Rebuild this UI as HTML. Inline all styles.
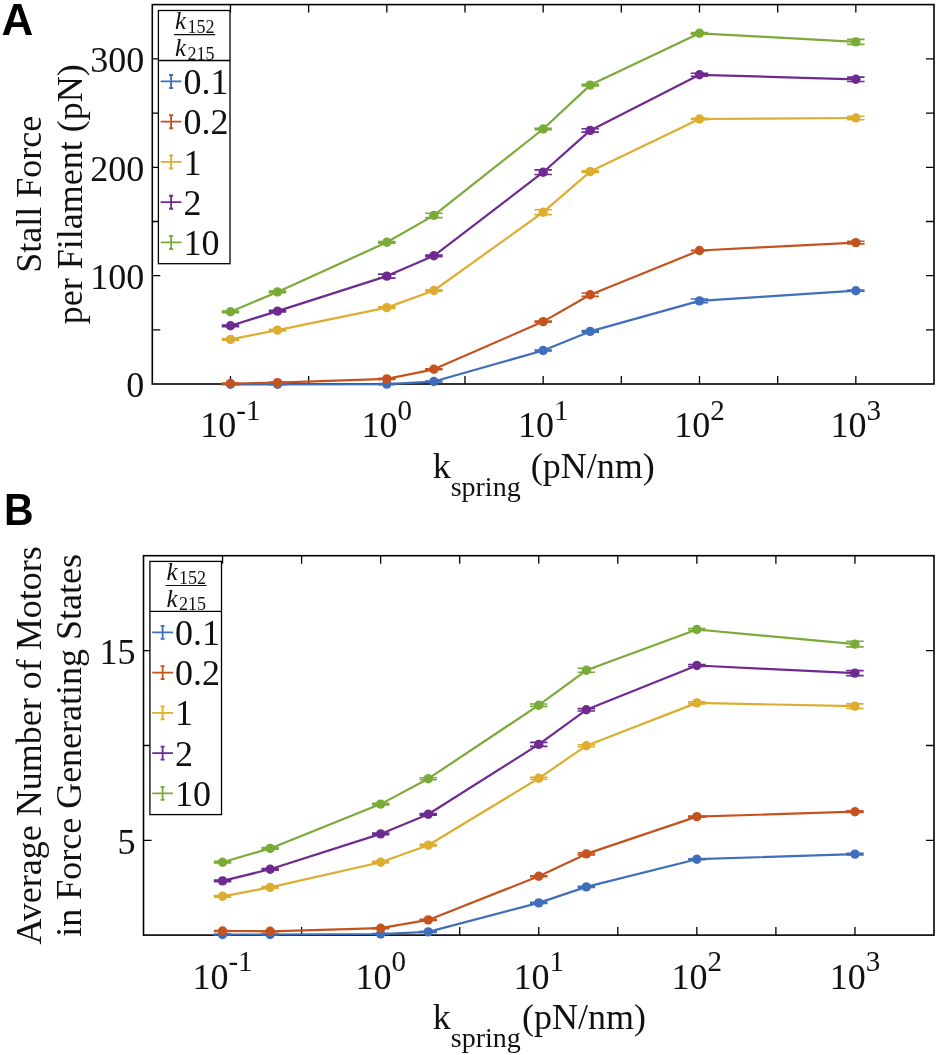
<!DOCTYPE html>
<html><head><meta charset="utf-8"><style>
html,body{margin:0;padding:0;background:#fff;width:939px;height:1055px;overflow:hidden}
svg{display:block;filter:blur(0.3px)}
text{font-family:"Liberation Serif",serif;fill:#111}
.pl{font-family:"Liberation Sans",sans-serif;font-weight:bold;fill:#000}
</style></head><body>
<svg width="939" height="1055" viewBox="0 0 939 1055">
<text class="pl" x="1.6" y="34.6" font-size="44">A</text>
<text class="pl" transform="translate(3.9 525) scale(0.93 1)" font-size="44">B</text>
<rect x="152.30" y="4.60" width="781.70" height="379.40" fill="none" stroke="#000" stroke-width="1.6"/>
<path d="M230.47 384.00V376.00M230.47 4.60V12.60" stroke="#000" stroke-width="1.3"/>
<path d="M308.64 384.00V376.00M308.64 4.60V12.60" stroke="#000" stroke-width="1.3"/>
<path d="M386.81 384.00V376.00M386.81 4.60V12.60" stroke="#000" stroke-width="1.3"/>
<path d="M464.98 384.00V376.00M464.98 4.60V12.60" stroke="#000" stroke-width="1.3"/>
<path d="M543.15 384.00V376.00M543.15 4.60V12.60" stroke="#000" stroke-width="1.3"/>
<path d="M621.32 384.00V376.00M621.32 4.60V12.60" stroke="#000" stroke-width="1.3"/>
<path d="M699.49 384.00V376.00M699.49 4.60V12.60" stroke="#000" stroke-width="1.3"/>
<path d="M777.66 384.00V376.00M777.66 4.60V12.60" stroke="#000" stroke-width="1.3"/>
<path d="M855.83 384.00V376.00M855.83 4.60V12.60" stroke="#000" stroke-width="1.3"/>
<path d="M152.30 329.83H160.30M934.00 329.83H926.00" stroke="#000" stroke-width="1.3"/>
<path d="M152.30 275.66H160.30M934.00 275.66H926.00" stroke="#000" stroke-width="1.3"/>
<path d="M152.30 221.49H160.30M934.00 221.49H926.00" stroke="#000" stroke-width="1.3"/>
<path d="M152.30 167.31H160.30M934.00 167.31H926.00" stroke="#000" stroke-width="1.3"/>
<path d="M152.30 113.14H160.30M934.00 113.14H926.00" stroke="#000" stroke-width="1.3"/>
<path d="M152.30 58.97H160.30M934.00 58.97H926.00" stroke="#000" stroke-width="1.3"/>
<text x="144.20" y="397.20" text-anchor="end" font-size="36">0</text>
<text x="144.20" y="288.86" text-anchor="end" font-size="36">100</text>
<text x="144.20" y="180.51" text-anchor="end" font-size="36">200</text>
<text x="144.20" y="72.17" text-anchor="end" font-size="36">300</text>
<text x="200.37" y="437.40" font-size="36">10</text>
<text x="236.37" y="419.80" font-size="29">-1</text>
<text x="361.56" y="437.40" font-size="36">10</text>
<text x="397.56" y="419.80" font-size="29">0</text>
<text x="517.90" y="437.40" font-size="36">10</text>
<text x="553.90" y="419.80" font-size="29">1</text>
<text x="674.24" y="437.40" font-size="36">10</text>
<text x="710.24" y="419.80" font-size="29">2</text>
<text x="830.58" y="437.40" font-size="36">10</text>
<text x="866.58" y="419.80" font-size="29">3</text>
<polyline points="230.47,384.30 277.53,384.30 386.81,384.10 433.87,381.50 543.15,350.50 590.21,331.40 699.49,300.90 855.83,290.70" fill="none" stroke="#3F6EBB" stroke-width="2.2" stroke-linejoin="round"/>
<path d="M221.72 383.80H239.22M221.72 384.80H239.22M230.47 383.80V384.80" stroke="#3F6EBB" stroke-width="1.6" fill="none"/>
<circle cx="230.47" cy="384.30" r="4.7" fill="#3F6EBB"/>
<path d="M268.78 383.80H286.28M268.78 384.80H286.28M277.53 383.80V384.80" stroke="#3F6EBB" stroke-width="1.6" fill="none"/>
<circle cx="277.53" cy="384.30" r="4.7" fill="#3F6EBB"/>
<path d="M378.06 383.60H395.56M378.06 384.60H395.56M386.81 383.60V384.60" stroke="#3F6EBB" stroke-width="1.6" fill="none"/>
<circle cx="386.81" cy="384.10" r="4.7" fill="#3F6EBB"/>
<path d="M425.12 381.00H442.62M425.12 382.00H442.62M433.87 381.00V382.00" stroke="#3F6EBB" stroke-width="1.6" fill="none"/>
<circle cx="433.87" cy="381.50" r="4.7" fill="#3F6EBB"/>
<path d="M534.40 350.00H551.90M534.40 351.00H551.90M543.15 350.00V351.00" stroke="#3F6EBB" stroke-width="1.6" fill="none"/>
<circle cx="543.15" cy="350.50" r="4.7" fill="#3F6EBB"/>
<path d="M581.46 330.60H598.96M581.46 332.20H598.96M590.21 330.60V332.20" stroke="#3F6EBB" stroke-width="1.6" fill="none"/>
<circle cx="590.21" cy="331.40" r="4.7" fill="#3F6EBB"/>
<path d="M690.74 299.00H708.24M690.74 302.80H708.24M699.49 299.00V302.80" stroke="#3F6EBB" stroke-width="1.6" fill="none"/>
<circle cx="699.49" cy="300.90" r="4.7" fill="#3F6EBB"/>
<path d="M847.08 290.10H864.58M847.08 291.30H864.58M855.83 290.10V291.30" stroke="#3F6EBB" stroke-width="1.6" fill="none"/>
<circle cx="855.83" cy="290.70" r="4.7" fill="#3F6EBB"/>
<polyline points="230.47,383.50 277.53,382.60 386.81,378.90 433.87,369.30 543.15,321.60 590.21,294.70 699.49,250.50 855.83,242.60" fill="none" stroke="#C4521F" stroke-width="2.2" stroke-linejoin="round"/>
<path d="M221.72 383.00H239.22M221.72 384.00H239.22M230.47 383.00V384.00" stroke="#C4521F" stroke-width="1.6" fill="none"/>
<circle cx="230.47" cy="383.50" r="4.7" fill="#C4521F"/>
<path d="M268.78 382.10H286.28M268.78 383.10H286.28M277.53 382.10V383.10" stroke="#C4521F" stroke-width="1.6" fill="none"/>
<circle cx="277.53" cy="382.60" r="4.7" fill="#C4521F"/>
<path d="M378.06 378.40H395.56M378.06 379.40H395.56M386.81 378.40V379.40" stroke="#C4521F" stroke-width="1.6" fill="none"/>
<circle cx="386.81" cy="378.90" r="4.7" fill="#C4521F"/>
<path d="M425.12 368.80H442.62M425.12 369.80H442.62M433.87 368.80V369.80" stroke="#C4521F" stroke-width="1.6" fill="none"/>
<circle cx="433.87" cy="369.30" r="4.7" fill="#C4521F"/>
<path d="M534.40 321.10H551.90M534.40 322.10H551.90M543.15 321.10V322.10" stroke="#C4521F" stroke-width="1.6" fill="none"/>
<circle cx="543.15" cy="321.60" r="4.7" fill="#C4521F"/>
<path d="M581.46 293.00H598.96M581.46 296.40H598.96M590.21 293.00V296.40" stroke="#C4521F" stroke-width="1.6" fill="none"/>
<circle cx="590.21" cy="294.70" r="4.7" fill="#C4521F"/>
<path d="M690.74 250.20H708.24M690.74 250.80H708.24M699.49 250.20V250.80" stroke="#C4521F" stroke-width="1.6" fill="none"/>
<circle cx="699.49" cy="250.50" r="4.7" fill="#C4521F"/>
<path d="M847.08 241.30H864.58M847.08 243.90H864.58M855.83 241.30V243.90" stroke="#C4521F" stroke-width="1.6" fill="none"/>
<circle cx="855.83" cy="242.60" r="4.7" fill="#C4521F"/>
<polyline points="230.47,339.40 277.53,330.10 386.81,307.60 433.87,290.50 543.15,212.20 590.21,171.60 699.49,119.00 855.83,118.00" fill="none" stroke="#DDAD30" stroke-width="2.2" stroke-linejoin="round"/>
<path d="M221.72 338.60H239.22M221.72 340.20H239.22M230.47 338.60V340.20" stroke="#DDAD30" stroke-width="1.6" fill="none"/>
<circle cx="230.47" cy="339.40" r="4.7" fill="#DDAD30"/>
<path d="M268.78 329.30H286.28M268.78 330.90H286.28M277.53 329.30V330.90" stroke="#DDAD30" stroke-width="1.6" fill="none"/>
<circle cx="277.53" cy="330.10" r="4.7" fill="#DDAD30"/>
<path d="M378.06 306.80H395.56M378.06 308.40H395.56M386.81 306.80V308.40" stroke="#DDAD30" stroke-width="1.6" fill="none"/>
<circle cx="386.81" cy="307.60" r="4.7" fill="#DDAD30"/>
<path d="M425.12 289.70H442.62M425.12 291.30H442.62M433.87 289.70V291.30" stroke="#DDAD30" stroke-width="1.6" fill="none"/>
<circle cx="433.87" cy="290.50" r="4.7" fill="#DDAD30"/>
<path d="M534.40 209.80H551.90M534.40 214.60H551.90M543.15 209.80V214.60" stroke="#DDAD30" stroke-width="1.6" fill="none"/>
<circle cx="543.15" cy="212.20" r="4.7" fill="#DDAD30"/>
<path d="M581.46 170.80H598.96M581.46 172.40H598.96M590.21 170.80V172.40" stroke="#DDAD30" stroke-width="1.6" fill="none"/>
<circle cx="590.21" cy="171.60" r="4.7" fill="#DDAD30"/>
<path d="M690.74 118.20H708.24M690.74 119.80H708.24M699.49 118.20V119.80" stroke="#DDAD30" stroke-width="1.6" fill="none"/>
<circle cx="699.49" cy="119.00" r="4.7" fill="#DDAD30"/>
<path d="M847.08 116.30H864.58M847.08 119.70H864.58M855.83 116.30V119.70" stroke="#DDAD30" stroke-width="1.6" fill="none"/>
<circle cx="855.83" cy="118.00" r="4.7" fill="#DDAD30"/>
<polyline points="230.47,325.80 277.53,311.10 386.81,276.10 433.87,255.80 543.15,172.20 590.21,130.40 699.49,74.80 855.83,79.30" fill="none" stroke="#6E2A90" stroke-width="2.2" stroke-linejoin="round"/>
<path d="M221.72 325.00H239.22M221.72 326.60H239.22M230.47 325.00V326.60" stroke="#6E2A90" stroke-width="1.6" fill="none"/>
<circle cx="230.47" cy="325.80" r="4.7" fill="#6E2A90"/>
<path d="M268.78 310.30H286.28M268.78 311.90H286.28M277.53 310.30V311.90" stroke="#6E2A90" stroke-width="1.6" fill="none"/>
<circle cx="277.53" cy="311.10" r="4.7" fill="#6E2A90"/>
<path d="M378.06 274.10H395.56M378.06 278.10H395.56M386.81 274.10V278.10" stroke="#6E2A90" stroke-width="1.6" fill="none"/>
<circle cx="386.81" cy="276.10" r="4.7" fill="#6E2A90"/>
<path d="M425.12 255.00H442.62M425.12 256.60H442.62M433.87 255.00V256.60" stroke="#6E2A90" stroke-width="1.6" fill="none"/>
<circle cx="433.87" cy="255.80" r="4.7" fill="#6E2A90"/>
<path d="M534.40 169.90H551.90M534.40 174.50H551.90M543.15 169.90V174.50" stroke="#6E2A90" stroke-width="1.6" fill="none"/>
<circle cx="543.15" cy="172.20" r="4.7" fill="#6E2A90"/>
<path d="M581.46 128.70H598.96M581.46 132.10H598.96M590.21 128.70V132.10" stroke="#6E2A90" stroke-width="1.6" fill="none"/>
<circle cx="590.21" cy="130.40" r="4.7" fill="#6E2A90"/>
<path d="M690.74 73.30H708.24M690.74 76.30H708.24M699.49 73.30V76.30" stroke="#6E2A90" stroke-width="1.6" fill="none"/>
<circle cx="699.49" cy="74.80" r="4.7" fill="#6E2A90"/>
<path d="M847.08 77.10H864.58M847.08 81.50H864.58M855.83 77.10V81.50" stroke="#6E2A90" stroke-width="1.6" fill="none"/>
<circle cx="855.83" cy="79.30" r="4.7" fill="#6E2A90"/>
<polyline points="230.47,311.80 277.53,291.90 386.81,242.30 433.87,215.40 543.15,129.00 590.21,85.10 699.49,33.30 855.83,41.90" fill="none" stroke="#7AAA38" stroke-width="2.2" stroke-linejoin="round"/>
<path d="M221.72 311.00H239.22M221.72 312.60H239.22M230.47 311.00V312.60" stroke="#7AAA38" stroke-width="1.6" fill="none"/>
<circle cx="230.47" cy="311.80" r="4.7" fill="#7AAA38"/>
<path d="M268.78 291.10H286.28M268.78 292.70H286.28M277.53 291.10V292.70" stroke="#7AAA38" stroke-width="1.6" fill="none"/>
<circle cx="277.53" cy="291.90" r="4.7" fill="#7AAA38"/>
<path d="M378.06 241.50H395.56M378.06 243.10H395.56M386.81 241.50V243.10" stroke="#7AAA38" stroke-width="1.6" fill="none"/>
<circle cx="386.81" cy="242.30" r="4.7" fill="#7AAA38"/>
<path d="M425.12 213.20H442.62M425.12 217.60H442.62M433.87 213.20V217.60" stroke="#7AAA38" stroke-width="1.6" fill="none"/>
<circle cx="433.87" cy="215.40" r="4.7" fill="#7AAA38"/>
<path d="M534.40 128.20H551.90M534.40 129.80H551.90M543.15 128.20V129.80" stroke="#7AAA38" stroke-width="1.6" fill="none"/>
<circle cx="543.15" cy="129.00" r="4.7" fill="#7AAA38"/>
<path d="M581.46 84.30H598.96M581.46 85.90H598.96M590.21 84.30V85.90" stroke="#7AAA38" stroke-width="1.6" fill="none"/>
<circle cx="590.21" cy="85.10" r="4.7" fill="#7AAA38"/>
<path d="M690.74 32.50H708.24M690.74 34.10H708.24M699.49 32.50V34.10" stroke="#7AAA38" stroke-width="1.6" fill="none"/>
<circle cx="699.49" cy="33.30" r="4.7" fill="#7AAA38"/>
<path d="M847.08 39.40H864.58M847.08 44.40H864.58M855.83 39.40V44.40" stroke="#7AAA38" stroke-width="1.6" fill="none"/>
<circle cx="855.83" cy="41.90" r="4.7" fill="#7AAA38"/>
<text x="432.65" y="478.00" font-size="36">k</text>
<text x="450.65" y="495.90" font-size="28">spring</text>
<text x="521.85" y="478.00" font-size="36">&#160;(pN/nm)</text>
<text transform="translate(41.10 194.30) rotate(-90)" text-anchor="middle" font-size="36">Stall Force</text>
<text transform="translate(81.50 194.30) rotate(-90)" text-anchor="middle" font-size="36">per Filament (pN)</text>
<rect x="158.40" y="10.50" width="71.60" height="253.20" fill="#fff" stroke="#000" stroke-width="1.3"/>
<path d="M158.40 60.50H230.00" stroke="#000" stroke-width="1.3"/>
<path d="M174.10 34.60H215.10" stroke="#111" stroke-width="1.2"/>
<text x="175.10" y="29.00" font-size="25" font-style="italic">k</text>
<text x="187.60" y="32.70" font-size="18">152</text>
<text x="175.10" y="55.70" font-size="25" font-style="italic">k</text>
<text x="187.60" y="59.50" font-size="18">215</text>
<path d="M160.70 81.40H181.50M171.10 75.00V88.00M169.10 75.00H173.10M169.10 88.00H173.10" stroke="#3F6EBB" stroke-width="1.8" fill="none"/>
<text x="183.40" y="94.00" font-size="36">0.1</text>
<path d="M160.70 121.65H181.50M171.10 115.25V128.25M169.10 115.25H173.10M169.10 128.25H173.10" stroke="#C4521F" stroke-width="1.8" fill="none"/>
<text x="183.40" y="134.25" font-size="36">0.2</text>
<path d="M160.70 161.90H181.50M171.10 155.50V168.50M169.10 155.50H173.10M169.10 168.50H173.10" stroke="#DDAD30" stroke-width="1.8" fill="none"/>
<text x="183.40" y="174.50" font-size="36">1</text>
<path d="M160.70 202.15H181.50M171.10 195.75V208.75M169.10 195.75H173.10M169.10 208.75H173.10" stroke="#6E2A90" stroke-width="1.8" fill="none"/>
<text x="183.40" y="214.75" font-size="36">2</text>
<path d="M160.70 242.40H181.50M171.10 236.00V249.00M169.10 236.00H173.10M169.10 249.00H173.10" stroke="#7AAA38" stroke-width="1.8" fill="none"/>
<text x="183.40" y="255.00" font-size="36">10</text>
<rect x="143.50" y="555.70" width="790.50" height="379.40" fill="none" stroke="#000" stroke-width="1.6"/>
<path d="M222.55 935.10V927.10M222.55 555.70V563.70" stroke="#000" stroke-width="1.3"/>
<path d="M301.60 935.10V927.10M301.60 555.70V563.70" stroke="#000" stroke-width="1.3"/>
<path d="M380.65 935.10V927.10M380.65 555.70V563.70" stroke="#000" stroke-width="1.3"/>
<path d="M459.70 935.10V927.10M459.70 555.70V563.70" stroke="#000" stroke-width="1.3"/>
<path d="M538.75 935.10V927.10M538.75 555.70V563.70" stroke="#000" stroke-width="1.3"/>
<path d="M617.80 935.10V927.10M617.80 555.70V563.70" stroke="#000" stroke-width="1.3"/>
<path d="M696.85 935.10V927.10M696.85 555.70V563.70" stroke="#000" stroke-width="1.3"/>
<path d="M775.90 935.10V927.10M775.90 555.70V563.70" stroke="#000" stroke-width="1.3"/>
<path d="M854.95 935.10V927.10M854.95 555.70V563.70" stroke="#000" stroke-width="1.3"/>
<path d="M143.50 840.30H151.50M934.00 840.30H926.00" stroke="#000" stroke-width="1.3"/>
<path d="M143.50 745.50H151.50M934.00 745.50H926.00" stroke="#000" stroke-width="1.3"/>
<path d="M143.50 650.70H151.50M934.00 650.70H926.00" stroke="#000" stroke-width="1.3"/>
<text x="135.40" y="853.50" text-anchor="end" font-size="36">5</text>
<text x="135.40" y="663.90" text-anchor="end" font-size="36">15</text>
<text x="192.45" y="988.50" font-size="36">10</text>
<text x="228.45" y="970.90" font-size="29">-1</text>
<text x="355.40" y="988.50" font-size="36">10</text>
<text x="391.40" y="970.90" font-size="29">0</text>
<text x="513.50" y="988.50" font-size="36">10</text>
<text x="549.50" y="970.90" font-size="29">1</text>
<text x="671.60" y="988.50" font-size="36">10</text>
<text x="707.60" y="970.90" font-size="29">2</text>
<text x="829.70" y="988.50" font-size="36">10</text>
<text x="865.70" y="970.90" font-size="29">3</text>
<polyline points="222.55,934.50 270.14,934.50 380.65,934.00 428.24,931.90 538.75,902.90 586.34,886.90 696.85,859.20 854.95,854.10" fill="none" stroke="#3F6EBB" stroke-width="2.2" stroke-linejoin="round"/>
<path d="M213.80 934.00H231.30M213.80 935.00H231.30M222.55 934.00V935.00" stroke="#3F6EBB" stroke-width="1.6" fill="none"/>
<circle cx="222.55" cy="934.50" r="4.7" fill="#3F6EBB"/>
<path d="M261.39 934.00H278.89M261.39 935.00H278.89M270.14 934.00V935.00" stroke="#3F6EBB" stroke-width="1.6" fill="none"/>
<circle cx="270.14" cy="934.50" r="4.7" fill="#3F6EBB"/>
<path d="M371.90 933.50H389.40M371.90 934.50H389.40M380.65 933.50V934.50" stroke="#3F6EBB" stroke-width="1.6" fill="none"/>
<circle cx="380.65" cy="934.00" r="4.7" fill="#3F6EBB"/>
<path d="M419.49 931.40H436.99M419.49 932.40H436.99M428.24 931.40V932.40" stroke="#3F6EBB" stroke-width="1.6" fill="none"/>
<circle cx="428.24" cy="931.90" r="4.7" fill="#3F6EBB"/>
<path d="M530.00 902.40H547.50M530.00 903.40H547.50M538.75 902.40V903.40" stroke="#3F6EBB" stroke-width="1.6" fill="none"/>
<circle cx="538.75" cy="902.90" r="4.7" fill="#3F6EBB"/>
<path d="M577.59 886.40H595.09M577.59 887.40H595.09M586.34 886.40V887.40" stroke="#3F6EBB" stroke-width="1.6" fill="none"/>
<circle cx="586.34" cy="886.90" r="4.7" fill="#3F6EBB"/>
<path d="M688.10 858.70H705.60M688.10 859.70H705.60M696.85 858.70V859.70" stroke="#3F6EBB" stroke-width="1.6" fill="none"/>
<circle cx="696.85" cy="859.20" r="4.7" fill="#3F6EBB"/>
<path d="M846.20 853.30H863.70M846.20 854.90H863.70M854.95 853.30V854.90" stroke="#3F6EBB" stroke-width="1.6" fill="none"/>
<circle cx="854.95" cy="854.10" r="4.7" fill="#3F6EBB"/>
<polyline points="222.55,931.00 270.14,931.30 380.65,928.20 428.24,919.90 538.75,876.30 586.34,853.90 696.85,816.60 854.95,811.70" fill="none" stroke="#C4521F" stroke-width="2.2" stroke-linejoin="round"/>
<path d="M213.80 930.50H231.30M213.80 931.50H231.30M222.55 930.50V931.50" stroke="#C4521F" stroke-width="1.6" fill="none"/>
<circle cx="222.55" cy="931.00" r="4.7" fill="#C4521F"/>
<path d="M261.39 930.80H278.89M261.39 931.80H278.89M270.14 930.80V931.80" stroke="#C4521F" stroke-width="1.6" fill="none"/>
<circle cx="270.14" cy="931.30" r="4.7" fill="#C4521F"/>
<path d="M371.90 927.70H389.40M371.90 928.70H389.40M380.65 927.70V928.70" stroke="#C4521F" stroke-width="1.6" fill="none"/>
<circle cx="380.65" cy="928.20" r="4.7" fill="#C4521F"/>
<path d="M419.49 919.40H436.99M419.49 920.40H436.99M428.24 919.40V920.40" stroke="#C4521F" stroke-width="1.6" fill="none"/>
<circle cx="428.24" cy="919.90" r="4.7" fill="#C4521F"/>
<path d="M530.00 875.80H547.50M530.00 876.80H547.50M538.75 875.80V876.80" stroke="#C4521F" stroke-width="1.6" fill="none"/>
<circle cx="538.75" cy="876.30" r="4.7" fill="#C4521F"/>
<path d="M577.59 852.90H595.09M577.59 854.90H595.09M586.34 852.90V854.90" stroke="#C4521F" stroke-width="1.6" fill="none"/>
<circle cx="586.34" cy="853.90" r="4.7" fill="#C4521F"/>
<path d="M688.10 816.10H705.60M688.10 817.10H705.60M696.85 816.10V817.10" stroke="#C4521F" stroke-width="1.6" fill="none"/>
<circle cx="696.85" cy="816.60" r="4.7" fill="#C4521F"/>
<path d="M846.20 810.90H863.70M846.20 812.50H863.70M854.95 810.90V812.50" stroke="#C4521F" stroke-width="1.6" fill="none"/>
<circle cx="854.95" cy="811.70" r="4.7" fill="#C4521F"/>
<polyline points="222.55,896.30 270.14,887.40 380.65,862.20 428.24,845.20 538.75,778.30 586.34,745.70 696.85,702.90 854.95,706.20" fill="none" stroke="#DDAD30" stroke-width="2.2" stroke-linejoin="round"/>
<path d="M213.80 895.50H231.30M213.80 897.10H231.30M222.55 895.50V897.10" stroke="#DDAD30" stroke-width="1.6" fill="none"/>
<circle cx="222.55" cy="896.30" r="4.7" fill="#DDAD30"/>
<path d="M261.39 886.60H278.89M261.39 888.20H278.89M270.14 886.60V888.20" stroke="#DDAD30" stroke-width="1.6" fill="none"/>
<circle cx="270.14" cy="887.40" r="4.7" fill="#DDAD30"/>
<path d="M371.90 861.40H389.40M371.90 863.00H389.40M380.65 861.40V863.00" stroke="#DDAD30" stroke-width="1.6" fill="none"/>
<circle cx="380.65" cy="862.20" r="4.7" fill="#DDAD30"/>
<path d="M419.49 844.40H436.99M419.49 846.00H436.99M428.24 844.40V846.00" stroke="#DDAD30" stroke-width="1.6" fill="none"/>
<circle cx="428.24" cy="845.20" r="4.7" fill="#DDAD30"/>
<path d="M530.00 777.30H547.50M530.00 779.30H547.50M538.75 777.30V779.30" stroke="#DDAD30" stroke-width="1.6" fill="none"/>
<circle cx="538.75" cy="778.30" r="4.7" fill="#DDAD30"/>
<path d="M577.59 744.70H595.09M577.59 746.70H595.09M586.34 744.70V746.70" stroke="#DDAD30" stroke-width="1.6" fill="none"/>
<circle cx="586.34" cy="745.70" r="4.7" fill="#DDAD30"/>
<path d="M688.10 701.90H705.60M688.10 703.90H705.60M696.85 701.90V703.90" stroke="#DDAD30" stroke-width="1.6" fill="none"/>
<circle cx="696.85" cy="702.90" r="4.7" fill="#DDAD30"/>
<path d="M846.20 703.90H863.70M846.20 708.50H863.70M854.95 703.90V708.50" stroke="#DDAD30" stroke-width="1.6" fill="none"/>
<circle cx="854.95" cy="706.20" r="4.7" fill="#DDAD30"/>
<polyline points="222.55,880.90 270.14,869.30 380.65,833.90 428.24,814.30 538.75,744.40 586.34,709.80 696.85,665.50 854.95,673.10" fill="none" stroke="#6E2A90" stroke-width="2.2" stroke-linejoin="round"/>
<path d="M213.80 880.10H231.30M213.80 881.70H231.30M222.55 880.10V881.70" stroke="#6E2A90" stroke-width="1.6" fill="none"/>
<circle cx="222.55" cy="880.90" r="4.7" fill="#6E2A90"/>
<path d="M261.39 868.50H278.89M261.39 870.10H278.89M270.14 868.50V870.10" stroke="#6E2A90" stroke-width="1.6" fill="none"/>
<circle cx="270.14" cy="869.30" r="4.7" fill="#6E2A90"/>
<path d="M371.90 833.10H389.40M371.90 834.70H389.40M380.65 833.10V834.70" stroke="#6E2A90" stroke-width="1.6" fill="none"/>
<circle cx="380.65" cy="833.90" r="4.7" fill="#6E2A90"/>
<path d="M419.49 813.50H436.99M419.49 815.10H436.99M428.24 813.50V815.10" stroke="#6E2A90" stroke-width="1.6" fill="none"/>
<circle cx="428.24" cy="814.30" r="4.7" fill="#6E2A90"/>
<path d="M530.00 742.40H547.50M530.00 746.40H547.50M538.75 742.40V746.40" stroke="#6E2A90" stroke-width="1.6" fill="none"/>
<circle cx="538.75" cy="744.40" r="4.7" fill="#6E2A90"/>
<path d="M577.59 708.60H595.09M577.59 711.00H595.09M586.34 708.60V711.00" stroke="#6E2A90" stroke-width="1.6" fill="none"/>
<circle cx="586.34" cy="709.80" r="4.7" fill="#6E2A90"/>
<path d="M688.10 664.50H705.60M688.10 666.50H705.60M696.85 664.50V666.50" stroke="#6E2A90" stroke-width="1.6" fill="none"/>
<circle cx="696.85" cy="665.50" r="4.7" fill="#6E2A90"/>
<path d="M846.20 670.60H863.70M846.20 675.60H863.70M854.95 670.60V675.60" stroke="#6E2A90" stroke-width="1.6" fill="none"/>
<circle cx="854.95" cy="673.10" r="4.7" fill="#6E2A90"/>
<polyline points="222.55,862.20 270.14,848.40 380.65,804.10 428.24,778.70 538.75,705.20 586.34,670.30 696.85,629.50 854.95,644.10" fill="none" stroke="#7AAA38" stroke-width="2.2" stroke-linejoin="round"/>
<path d="M213.80 861.40H231.30M213.80 863.00H231.30M222.55 861.40V863.00" stroke="#7AAA38" stroke-width="1.6" fill="none"/>
<circle cx="222.55" cy="862.20" r="4.7" fill="#7AAA38"/>
<path d="M261.39 847.60H278.89M261.39 849.20H278.89M270.14 847.60V849.20" stroke="#7AAA38" stroke-width="1.6" fill="none"/>
<circle cx="270.14" cy="848.40" r="4.7" fill="#7AAA38"/>
<path d="M371.90 803.30H389.40M371.90 804.90H389.40M380.65 803.30V804.90" stroke="#7AAA38" stroke-width="1.6" fill="none"/>
<circle cx="380.65" cy="804.10" r="4.7" fill="#7AAA38"/>
<path d="M419.49 777.70H436.99M419.49 779.70H436.99M428.24 777.70V779.70" stroke="#7AAA38" stroke-width="1.6" fill="none"/>
<circle cx="428.24" cy="778.70" r="4.7" fill="#7AAA38"/>
<path d="M530.00 704.00H547.50M530.00 706.40H547.50M538.75 704.00V706.40" stroke="#7AAA38" stroke-width="1.6" fill="none"/>
<circle cx="538.75" cy="705.20" r="4.7" fill="#7AAA38"/>
<path d="M577.59 668.30H595.09M577.59 672.30H595.09M586.34 668.30V672.30" stroke="#7AAA38" stroke-width="1.6" fill="none"/>
<circle cx="586.34" cy="670.30" r="4.7" fill="#7AAA38"/>
<path d="M688.10 628.50H705.60M688.10 630.50H705.60M696.85 628.50V630.50" stroke="#7AAA38" stroke-width="1.6" fill="none"/>
<circle cx="696.85" cy="629.50" r="4.7" fill="#7AAA38"/>
<path d="M846.20 641.30H863.70M846.20 646.90H863.70M854.95 641.30V646.90" stroke="#7AAA38" stroke-width="1.6" fill="none"/>
<circle cx="854.95" cy="644.10" r="4.7" fill="#7AAA38"/>
<text x="432.75" y="1028.90" font-size="36">k</text>
<text x="450.75" y="1046.80" font-size="28">spring</text>
<text x="521.95" y="1028.90" font-size="36">(pN/nm)</text>
<text transform="translate(40.50 745.40) rotate(-90)" text-anchor="middle" font-size="36">Average Number of Motors</text>
<text transform="translate(81.20 745.40) rotate(-90)" text-anchor="middle" font-size="36">in Force Generating States</text>
<rect x="149.90" y="561.40" width="71.60" height="253.20" fill="#fff" stroke="#000" stroke-width="1.3"/>
<path d="M149.90 611.40H221.50" stroke="#000" stroke-width="1.3"/>
<path d="M165.60 585.50H206.60" stroke="#111" stroke-width="1.2"/>
<text x="166.60" y="579.90" font-size="25" font-style="italic">k</text>
<text x="179.10" y="583.60" font-size="18">152</text>
<text x="166.60" y="606.60" font-size="25" font-style="italic">k</text>
<text x="179.10" y="610.40" font-size="18">215</text>
<path d="M152.20 632.30H173.00M162.60 625.90V638.90M160.60 625.90H164.60M160.60 638.90H164.60" stroke="#3F6EBB" stroke-width="1.8" fill="none"/>
<text x="174.90" y="644.90" font-size="36">0.1</text>
<path d="M152.20 672.55H173.00M162.60 666.15V679.15M160.60 666.15H164.60M160.60 679.15H164.60" stroke="#C4521F" stroke-width="1.8" fill="none"/>
<text x="174.90" y="685.15" font-size="36">0.2</text>
<path d="M152.20 712.80H173.00M162.60 706.40V719.40M160.60 706.40H164.60M160.60 719.40H164.60" stroke="#DDAD30" stroke-width="1.8" fill="none"/>
<text x="174.90" y="725.40" font-size="36">1</text>
<path d="M152.20 753.05H173.00M162.60 746.65V759.65M160.60 746.65H164.60M160.60 759.65H164.60" stroke="#6E2A90" stroke-width="1.8" fill="none"/>
<text x="174.90" y="765.65" font-size="36">2</text>
<path d="M152.20 793.30H173.00M162.60 786.90V799.90M160.60 786.90H164.60M160.60 799.90H164.60" stroke="#7AAA38" stroke-width="1.8" fill="none"/>
<text x="174.90" y="805.90" font-size="36">10</text>
</svg></body></html>
